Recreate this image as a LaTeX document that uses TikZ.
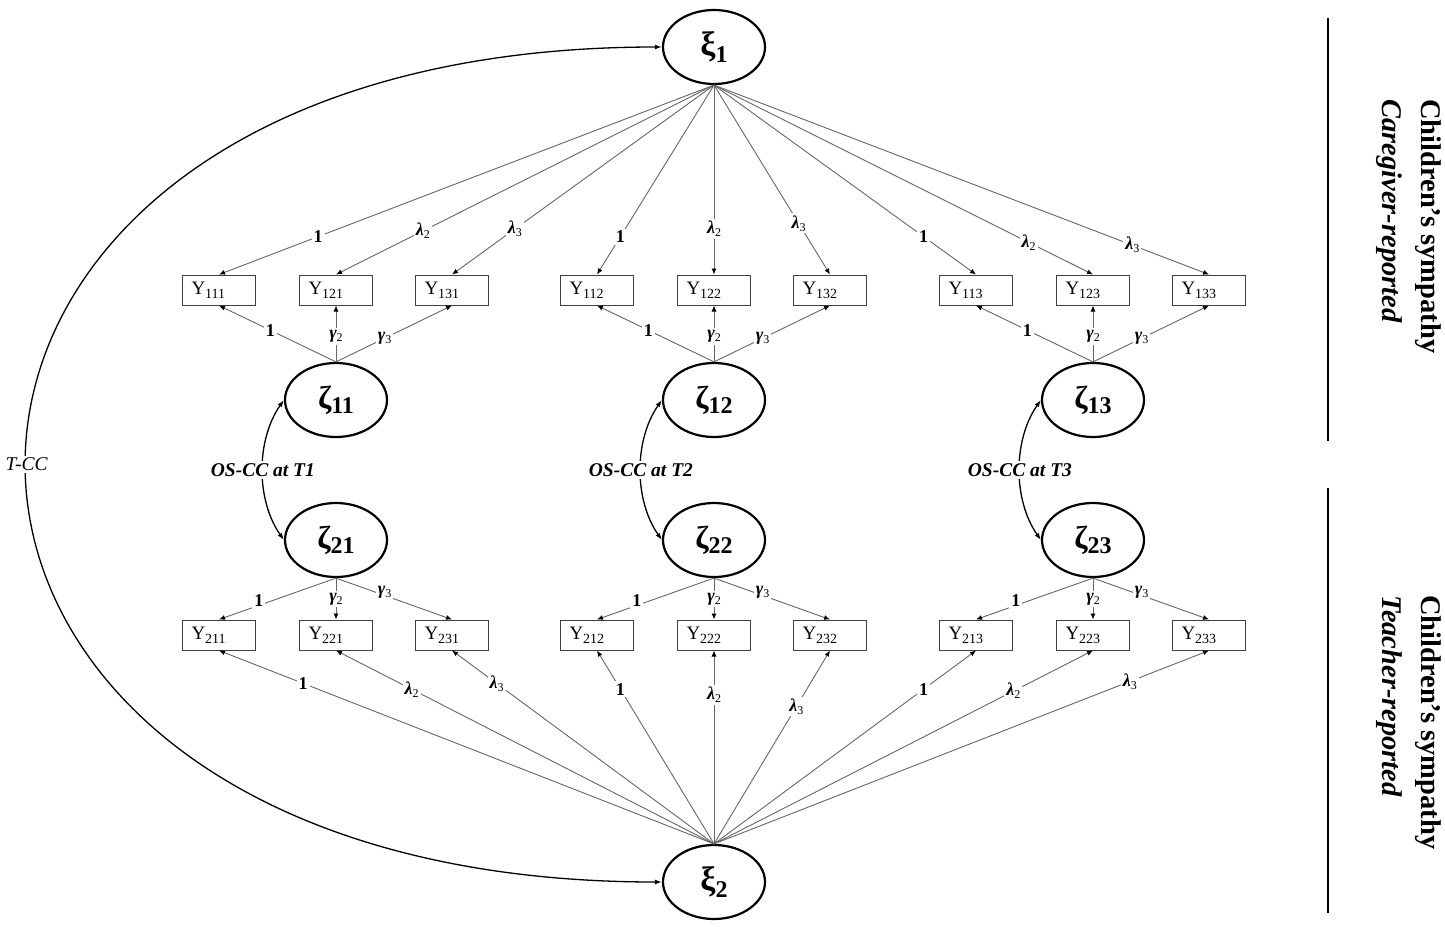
\documentclass[tikz,border=0pt]{standalone}
\usepackage{fontspec}
\setmainfont{Liberation Serif}
\usetikzlibrary{shapes.geometric,arrows.meta}
\newcommand{\yobs}[1]{Y\raisebox{-4pt}{\fontsize{14}{14}\selectfont #1}}
\newcommand{\lmb}[1]{\textit{λ}\raisebox{-3pt}{\fontsize{12}{12}\selectfont\mdseries #1}}
\newcommand{\gmm}[1]{\textit{γ}\raisebox{-3pt}{\fontsize{12}{12}\selectfont\mdseries #1}}
\newcommand{\zet}[1]{{\fontsize{32}{32}\selectfont\bfseries ζ}\raisebox{-5pt}{\fontsize{24}{24}\selectfont\bfseries #1}}
\newcommand{\xii}[1]{{\fontsize{34}{34}\selectfont\bfseries ξ}\raisebox{-7pt}{\fontsize{24}{24}\selectfont\bfseries #1}}
\tikzset{
  lat/.style={ellipse, draw, line width=2.2pt, minimum width=102pt, minimum height=74pt, inner sep=0pt},
  obs/.style={rectangle, draw=black!75, line width=1pt, minimum height=30pt, text width=55pt, align=left, inner xsep=9pt, inner ysep=0pt, font=\fontsize{19}{19}\selectfont},
  ldg/.style={draw=black!60, line width=0.9pt, -{Latex[length=6pt,width=5pt,color=black]}},
  lab/.style={fill=white, inner sep=2pt, font=\fontsize{18}{18}\selectfont\bfseries},
  cov/.style={draw=black, line width=1.3pt, {Latex[length=7pt,width=5pt]}-{Latex[length=7pt,width=5pt]}},
  cvlab/.style={fill=white, inner sep=2pt, font=\fontsize{19.5}{19.5}\selectfont\bfseries\itshape},
}
\begin{document}
\begin{tikzpicture}[x=1pt,y=-1pt]
\useasboundingbox (0,0) rectangle (1445,926);
% latent factors
\node[lat] (xi1) at (714,47) {\xii{1}};
\node[lat] (xi2) at (714,882) {\xii{2}};
\foreach \g/\cx in {1/336,2/714,3/1093}{
  \node[lat] (z1\g) at (\cx,400) {\zet{1\g}};
  \node[lat] (z2\g) at (\cx,540) {\zet{2\g}};
  \node[obs] (y11\g) at (\cx-117,290) {\yobs{11\g}};
  \node[obs] (y12\g) at (\cx,290) {\yobs{12\g}};
  \node[obs] (y13\g) at (\cx+116,290) {\yobs{13\g}};
  \node[obs] (y21\g) at (\cx-117,635) {\yobs{21\g}};
  \node[obs] (y22\g) at (\cx,635) {\yobs{22\g}};
  \node[obs] (y23\g) at (\cx+116,635) {\yobs{23\g}};
  % occasion-specific loadings
  \draw[ldg] (z1\g.north) -- node[lab,pos=0.56]{1} (y11\g.south);
  \draw[ldg] (z1\g.north) -- node[lab,pos=0.45]{\gmm{2}} (y12\g.south);
  \draw[ldg] (z1\g.north) -- node[lab,pos=0.42]{\gmm{3}} (y13\g.south);
  \draw[ldg] (z2\g.south) -- node[lab,pos=0.66,yshift=5pt]{1} (y21\g.north);
  \draw[ldg] (z2\g.south) -- node[lab,pos=0.5]{\gmm{2}} (y22\g.north);
  \draw[ldg] (z2\g.south) -- node[lab,pos=0.42,yshift=3pt]{\gmm{3}} (y23\g.north);
  % occasion-specific covariance
  \draw[cov] (z1\g.west) .. controls +(-28,40) and +(-28,-40) .. node[cvlab,pos=0.5]{OS-CC at T\g} (z2\g.west);
}
% trait loadings, caregiver
\foreach \i/\g/\p/\t in {1/1/0.8/{1},2/1/0.77/{\lmb{2}},3/1/0.76/{\lmb{3}},
                         1/2/0.8/{1},2/2/0.76/{\lmb{2}},3/2/0.73/{\lmb{3}},
                         1/3/0.8/{1},2/3/0.83/{\lmb{2}},3/3/0.845/{\lmb{3}}}{
  \draw[ldg] (xi1.south) -- node[lab,pos=\p]{\t} (y1\i\g.north);
}
% trait loadings, teacher
\foreach \i/\g/\p/\t in {1/1/0.83/{1},2/1/0.8/{\lmb{2}},3/1/0.83/{\lmb{3}},
                         1/2/0.8/{1},2/2/0.77/{\lmb{2}},3/2/0.71/{\lmb{3}},
                         1/3/0.8/{1},2/3/0.79/{\lmb{2}},3/3/0.84/{\lmb{3}}}{
  \draw[ldg] (xi2.north) -- node[lab,pos=\p]{\t} (y2\i\g.south);
}
% trait covariance
\draw[cov] (xi1.west) .. controls +(-847,0) and +(-847,0) .. node[fill=white,inner sep=2pt,pos=0.5,font=\fontsize{19.5}{19.5}\selectfont\itshape]{T-CC} (xi2.west);
% side labels
\draw[line width=2pt] (1328,18) -- (1328,441);
\draw[line width=2pt] (1328,488) -- (1328,913);
\node[rotate=-90, anchor=north west, align=left, inner sep=0pt, font=\fontsize{28.5}{39}\selectfont\bfseries] (sideA) at (1441,99) {Children’s sympathy\\\textit{Caregiver-reported}};
\node[rotate=-90, anchor=north west, align=left, inner sep=0pt, font=\fontsize{28.5}{39}\selectfont\bfseries] (sideB) at (1441,595) {Children’s sympathy\\\textit{Teacher-reported}};
\end{tikzpicture}
\end{document}
